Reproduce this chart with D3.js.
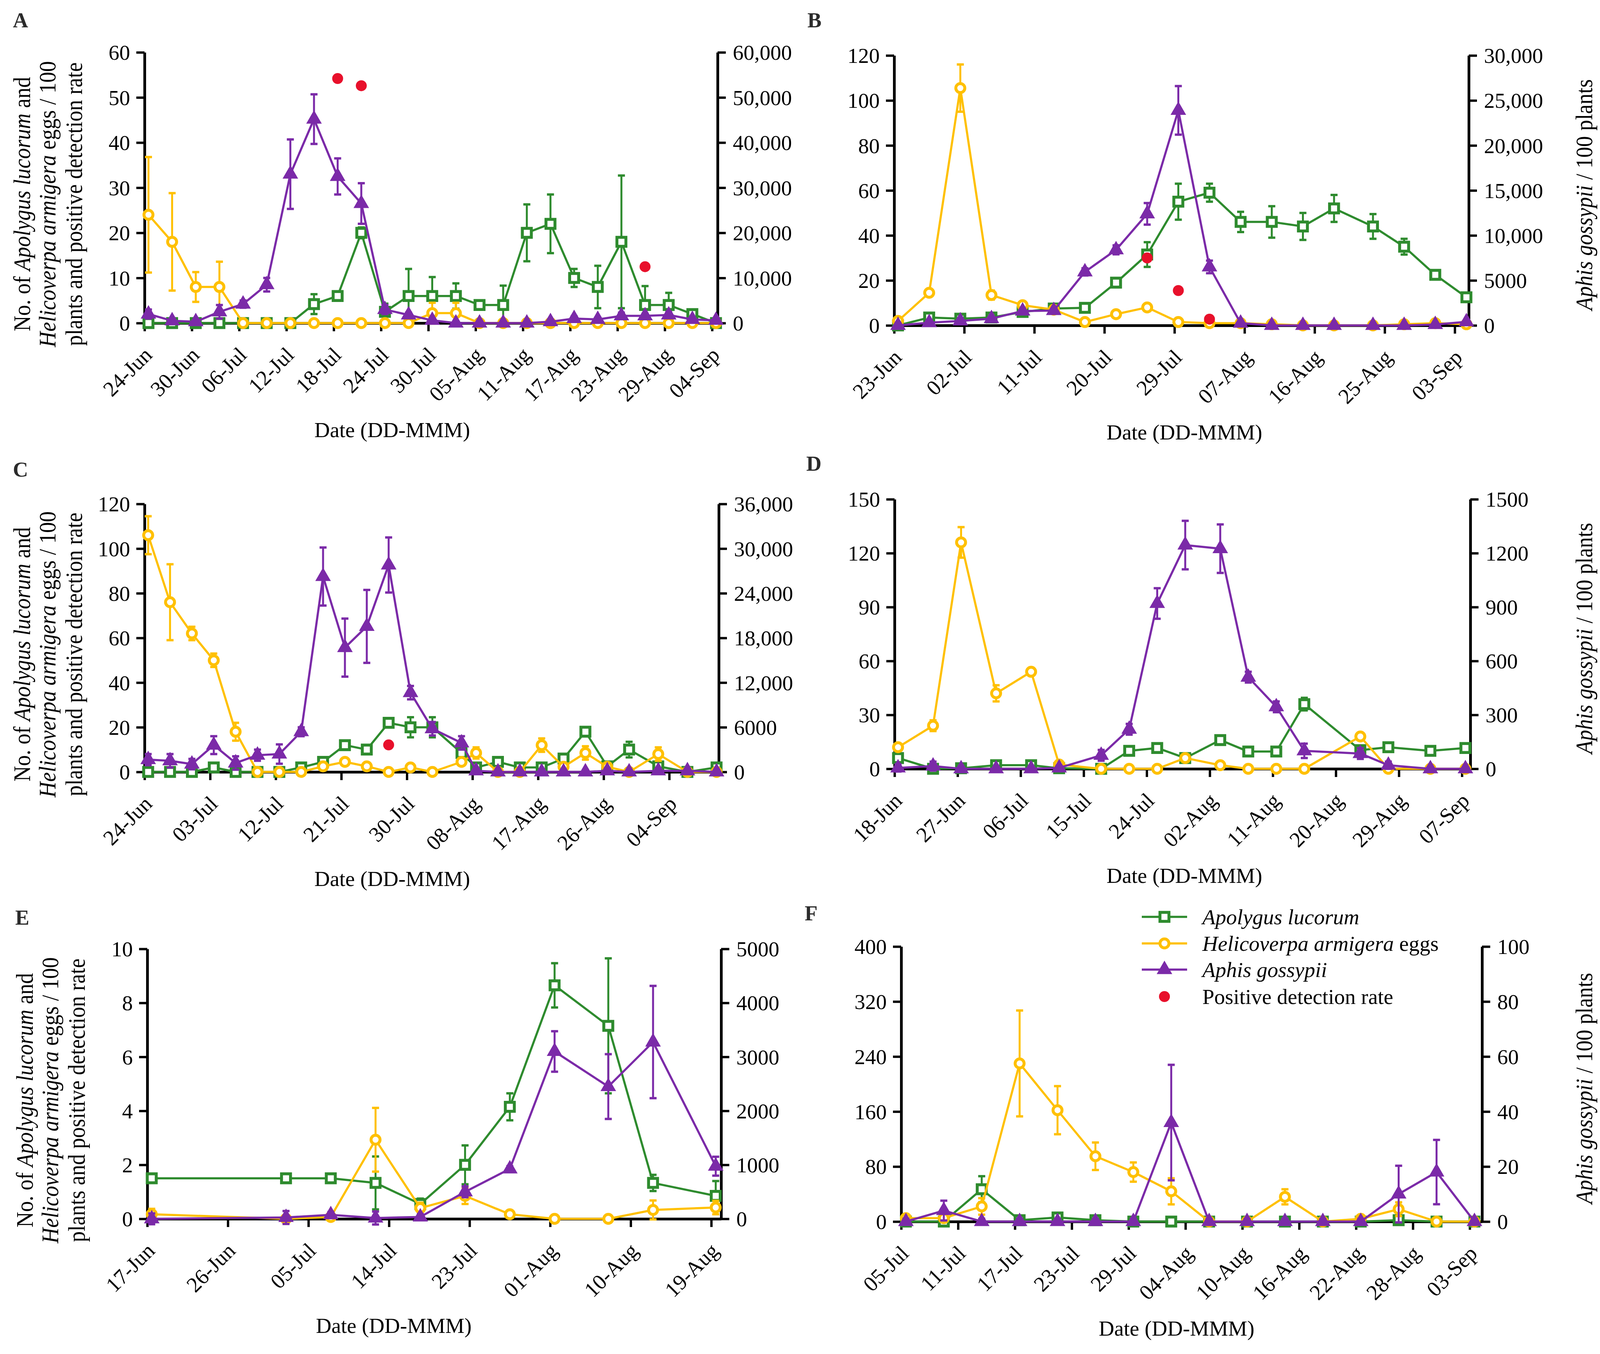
<!DOCTYPE html>
<html>
<head>
<meta charset="utf-8">
<script src="https://cdn.jsdelivr.net/npm/d3@7"></script>
<style>
  body { margin: 0; background: #fff; }
  svg, svg text { font-family: "Liberation Serif", "DejaVu Serif", serif; }
</style>
</head>
<body>
<svg id="chart" width="4120" height="3466"></svg>
<script>
// ---------- data ----------
// sampling dates per panel
const datesA = ["24-Jun","27-Jun","30-Jun","03-Jul","06-Jul","09-Jul","12-Jul","15-Jul","18-Jul","21-Jul","24-Jul","27-Jul","30-Jul","02-Aug","05-Aug","08-Aug","11-Aug","14-Aug","17-Aug","20-Aug","23-Aug","26-Aug","29-Aug","01-Sep","04-Sep"];
const datesB = ["23-Jun","27-Jun","01-Jul","05-Jul","09-Jul","13-Jul","17-Jul","21-Jul","25-Jul","29-Jul","02-Aug","06-Aug","10-Aug","14-Aug","18-Aug","23-Aug","27-Aug","31-Aug","04-Sep"];
const datesC = ["24-Jun","27-Jun","30-Jun","03-Jul","06-Jul","09-Jul","12-Jul","15-Jul","18-Jul","21-Jul","24-Jul","27-Jul","30-Jul","02-Aug","06-Aug","08-Aug","11-Aug","14-Aug","17-Aug","20-Aug","23-Aug","26-Aug","29-Aug","02-Sep","06-Sep","10-Sep"];
const datesD = ["18-Jun","23-Jun","27-Jun","02-Jul","07-Jul","11-Jul","17-Jul","21-Jul","25-Jul","29-Jul","03-Aug","07-Aug","11-Aug","15-Aug","23-Aug","27-Aug","02-Sep","07-Sep"];
const datesE = ["17-Jun","02-Jul","07-Jul","12-Jul","17-Jul","22-Jul","27-Jul","01-Aug","07-Aug","12-Aug","19-Aug"];
const datesF = ["05-Jul","09-Jul","13-Jul","17-Jul","21-Jul","25-Jul","29-Jul","02-Aug","06-Aug","10-Aug","14-Aug","18-Aug","22-Aug","26-Aug","30-Aug","03-Sep"];

// x tick labels
const ticksA = ["24-Jun","30-Jun","06-Jul","12-Jul","18-Jul","24-Jul","30-Jul","05-Aug","11-Aug","17-Aug","23-Aug","29-Aug","04-Sep"];
const ticksB = ["23-Jun","02-Jul","11-Jul","20-Jul","29-Jul","07-Aug","16-Aug","25-Aug","03-Sep"];
const ticksC = ["24-Jun","03-Jul","12-Jul","21-Jul","30-Jul","08-Aug","17-Aug","26-Aug","04-Sep"];
const ticksD = ["18-Jun","27-Jun","06-Jul","15-Jul","24-Jul","02-Aug","11-Aug","20-Aug","29-Aug","07-Sep"];
const ticksE = ["17-Jun","26-Jun","05-Jul","14-Jul","23-Jul","01-Aug","10-Aug","19-Aug"];
const ticksF = ["05-Jul","11-Jul","17-Jul","23-Jul","29-Jul","04-Aug","10-Aug","16-Aug","22-Aug","28-Aug","03-Sep"];

// Apolygus lucorum (left axis): mean and error
const lucorumA    = [0,0,0,0,0,0,0,4.2,6,20,2.5,6,6,6,4,4,20,22,10,8,18,4,4,2,0];
const lucorumErrA = [0,0,0,0,0,0,0,2.2,0.6,1.2,1.8,6,4.2,2.8,0.6,4.3,6.3,6.5,2,4.7,14.7,4.2,2.7,0.5,0];
const lucorumB    = [0,3.5,3,3.5,6,7.5,7.8,19,31.5,55,59,46,46,44,52,44,35,22.5,12.5];
const lucorumErrB = [0.5,1,0.8,0.8,1,1,0.8,2,5.5,8,4,4.5,7,6,6,5.5,3.5,1.5,1.5];
const lucorumC    = [0,0,0,2,0,0,0,2,4.5,12,10,22,20,20,8.5,2,4.5,2,2,6,18,2.5,10,2.5,0,2];
const lucorumErrC = [0.5,0.5,0.5,1,0.5,0.5,0.5,1,1,1.5,1.5,2,4.5,4.5,3,1,1,1,1,2,2,1,3.5,1,0.5,1];
const lucorumD    = [6,0,0.3,2,2,0.3,0,10,11.6,6,16,9.6,9.6,36,10.4,12,10,11.6];
const lucorumErrD = [1,0.5,0.5,0.5,0.5,0.5,0.5,1.5,1.5,1,2,1,1,3.5,1,1,1,1];
const lucorumE    = [1.5,1.5,1.5,1.33,0.55,2.0,4.15,8.65,7.15,1.33,0.85];
const lucorumErrE = [0.12,0.12,0.12,0.98,0.2,0.72,0.5,0.82,2.5,0.3,0.55];
const lucorumF    = [0,0,47,2,6,2,0,0,0,0,0,0,0,2,0,0];
const lucorumErrF = [2,2,19,2,3,2,0,0,0,0,0,0,0,2,0,0];

// Helicoverpa armigera eggs (left axis)
const armigeraA    = [24,18,8,8,0,0,0,0,0,0,0,0,2.2,2.2,0,0,0,0,0,0,0,0,0,0,0];
const armigeraErrA = [12.8,10.8,3.3,5.6,0,0,0,0,0,0,0,0,2.3,2.3,0,0,0,0,0,0,0,0,0,0,0];
const armigeraB    = [2,14.5,105.5,13.5,9,7,1.5,5,8,1.5,1,1,0.5,0,0,0,0.5,1,0.5];
const armigeraErrB = [1.5,1.5,10.5,2,1,1,0.5,1,1,0.5,0.3,0.3,0.3,0,0,0,0.3,0.5,0.3];
const armigeraC    = [106,76,62,50,18,0,0,0,2.5,4.5,2.5,0,2,0,4.5,8.5,0,0,12,2.3,8.5,2.3,0,8,0,0];
const armigeraErrC = [8.5,17,3,3,4,0,0,0,1,1.5,1,0,1,0,1,2.5,0,0,3,1,3,1,0,3,0,0];
const armigeraD    = [12,24,126,42,54,2.4,0,0,0,6,2,0,0,0,18,0,0,0];
const armigeraErrD = [2,3,8.5,4.5,2,0.5,0,0,0,1,0.5,0,0,0,2,0,0,0];
const armigeraE    = [0.17,0,0.07,2.93,0.4,0.85,0.17,0,0,0.33,0.42];
const armigeraErrE = [0.2,0.05,0.05,1.18,0.2,0.3,0.1,0.03,0.03,0.35,0.25];
const armigeraF    = [5,5,22,230,162,95,72,44,0,0,36,0,4,18,0,0];
const armigeraErrF = [3,5,12,77,35,20,14,19,0,2,11,2,4,10,2,2];

// Aphis gossypii (right axis)
const gossypiiA    = [2000,500,300,2500,4200,8500,33000,45200,32500,26500,3000,1800,600,0,0,0,0,300,1000,800,1600,1600,1800,800,600];
const gossypiiErrA = [1000,400,300,1500,800,1500,7700,5500,4000,4500,1000,500,300,0,0,0,0,200,500,400,700,500,600,300,300];
const gossypiiB    = [0,300,500,750,1600,1650,5950,8400,12400,23900,6500,250,0,0,0,0,0,100,400];
const gossypiiErrB = [100,100,100,150,200,200,400,500,1200,2700,700,100,0,0,0,0,0,50,100];
const gossypiiC    = [1650,1500,1050,3600,1200,2250,2400,5400,26250,16700,19550,27800,10650,5800,3900,150,0,0,0,0,0,150,0,150,150,0];
const gossypiiErrC = [750,900,700,1200,900,750,1300,600,3900,3900,4900,3700,900,900,900,250,250,250,250,250,250,250,250,250,250,250];
const gossypiiD    = [5,15,0,0,0,5,75,220,920,1245,1225,510,345,100,85,20,0,0];
const gossypiiErrD = [20,25,0,0,0,10,30,30,85,135,135,30,30,40,30,20,0,0];
const gossypiiE    = [0,25,75,15,35,500,925,3100,2450,3275,975];
const gossypiiErrE = [100,120,50,120,50,100,50,375,600,1040,175];
const gossypiiF    = [0,4,0,0,0,0,0,36,0,0,0,0,0,10,18,0];
const gossypiiErrF = [1,3.6,1,1,1,1,1,21,1,1,1,1,1,10.3,11.7,1];

// positive detection rate (left axis)
const rateDatesA = ["18-Jul","21-Jul","26-Aug"];
const rateA      = [54.2,52.6,12.5];
const rateDatesB = ["25-Jul","29-Jul","02-Aug"];
const rateB      = [30,15.5,2.8];
const rateDatesC = ["27-Jul"];
const rateC      = [12.1];

// ---------- styling ----------
const colors = { lucorum: "#2E8B2E", armigera: "#FFC000", gossypii: "#7B2AA8", rate: "#E8102B" };
const fontSize = 55;
const serif = "Liberation Serif, DejaVu Serif, serif";

const panels = [
  { id: "A", letter: [33, 70], left: 370, right: 1837, top: 134, bottom: 827, start: "24-Jun", days: 72.7,
    yMax: 60, yStep: 10, y2Max: 60000, y2Step: 10000, ticks: ticksA, dates: datesA,
    lucorum: [lucorumA, lucorumErrA], armigera: [armigeraA, armigeraErrA], gossypii: [gossypiiA, gossypiiErrA],
    rate: [rateDatesA, rateA], titleSide: "left", dateX: 1004 },
  { id: "B", letter: [2067, 70], left: 2289, right: 3760, top: 142, bottom: 833, start: "23-Jun", days: 73.8,
    yMax: 120, yStep: 20, y2Max: 30000, y2Step: 5000, ticks: ticksB, dates: datesB,
    lucorum: [lucorumB, lucorumErrB], armigera: [armigeraB, armigeraErrB], gossypii: [gossypiiB, gossypiiErrB],
    rate: [rateDatesB, rateB], titleSide: "right", dateX: 3032 },
  { id: "C", letter: [33, 1220], left: 370, right: 1840, top: 1290, bottom: 1976, start: "24-Jun", days: 78.8,
    yMax: 120, yStep: 20, y2Max: 36000, y2Step: 6000, ticks: ticksC, dates: datesC,
    lucorum: [lucorumC, lucorumErrC], armigera: [armigeraC, armigeraErrC], gossypii: [gossypiiC, gossypiiErrC],
    rate: [rateDatesC, rateC], titleSide: "left", dateX: 1004 },
  { id: "D", letter: [2064, 1205], left: 2290, right: 3764, top: 1278, bottom: 1968, start: "18-Jun", days: 82.2,
    yMax: 150, yStep: 30, y2Max: 1500, y2Step: 300, ticks: ticksD, dates: datesD,
    lucorum: [lucorumD, lucorumErrD], armigera: [armigeraD, armigeraErrD], gossypii: [gossypiiD, gossypiiErrD],
    rate: null, titleSide: "right", dateX: 3032 },
  { id: "E", letter: [39, 2367], left: 377, right: 1846, top: 2429, bottom: 3120, start: "17-Jun", days: 64.1,
    yMax: 10, yStep: 2, y2Max: 5000, y2Step: 1000, ticks: ticksE, dates: datesE,
    lucorum: [lucorumE, lucorumErrE], armigera: [armigeraE, armigeraErrE], gossypii: [gossypiiE, gossypiiErrE],
    rate: null, titleSide: "left", dateX: 1008 },
  { id: "F", letter: [2060, 2356], left: 2307, right: 3794, top: 2423, bottom: 3127, start: "05-Jul", days: 61.3,
    yMax: 400, yStep: 80, y2Max: 100, y2Step: 20, ticks: ticksF, dates: datesF,
    lucorum: [lucorumF, lucorumErrF], armigera: [armigeraF, armigeraErrF], gossypii: [gossypiiF, gossypiiErrF],
    rate: null, titleSide: "right", dateX: 3012 }
];

const parse = d3.timeParse("%d-%b");
const fmtDate = d3.timeFormat("%d-%b");
const fmtRight = v => v >= 10000 ? d3.format(",")(v) : String(v);
// points sit half a day after the midnight tick
const noon = s => d3.timeHour.offset(parse(s), 12);

const svg = d3.select("#chart");

const symbols = {
  lucorum:  { type: d3.symbolSquare,   size: 23 * 23, fill: "#fff" },
  armigera: { type: d3.symbolCircle,   size: Math.PI * 11.5 * 11.5, fill: "#fff" },
  gossypii: { type: d3.symbolTriangle, size: 470, fill: colors.gossypii }
};

function drawSeries(g, x, y, dates, vals, errs, key) {
  const color = colors[key];
  const pts = dates.map((d, i) => ({ t: noon(d), v: vals[i], e: errs[i] }));

  // error bars
  const eb = g.append("g").attr("stroke", color).attr("stroke-width", 5);
  pts.filter(p => p.e > 0).forEach(p => {
    const cx = x(p.t), y1 = y(p.v + p.e), y2 = y(p.v - p.e);
    eb.append("line").attr("x1", cx).attr("x2", cx).attr("y1", y1).attr("y2", y2);
    eb.append("line").attr("x1", cx - 9).attr("x2", cx + 9).attr("y1", y1).attr("y2", y1).attr("stroke-width", 6);
    eb.append("line").attr("x1", cx - 9).attr("x2", cx + 9).attr("y1", y2).attr("y2", y2).attr("stroke-width", 6);
  });

  g.append("path")
    .datum(pts)
    .attr("fill", "none")
    .attr("stroke", color)
    .attr("stroke-width", 5.5)
    .attr("stroke-linejoin", "round")
    .attr("d", d3.line().x(p => x(p.t)).y(p => y(p.v)));

  const sym = symbols[key];
  g.append("g").selectAll("path")
    .data(pts)
    .join("path")
    .attr("transform", p => `translate(${x(p.t)},${y(p.v)})`)
    .attr("d", d3.symbol(sym.type, sym.size))
    .attr("fill", sym.fill)
    .attr("stroke", color)
    .attr("stroke-width", key === "gossypii" ? 4 : 7.5);
}

function styleAxis(g) {
  g.attr("font-family", serif).attr("font-size", fontSize);
  g.select(".domain").attr("stroke", "#000").attr("stroke-width", 7);
  g.selectAll(".tick line").attr("stroke", "#000").attr("stroke-width", 6);
  g.selectAll(".tick text").attr("fill", "#000");
}

panels.forEach(p => {
  const start = parse(p.start);
  const x = d3.scaleTime()
    .domain([start, new Date(+start + p.days * 864e5)])
    .range([p.left, p.right]);
  const y = d3.scaleLinear().domain([0, p.yMax]).range([p.bottom, p.top]);
  const y2 = d3.scaleLinear().domain([0, p.y2Max]).range([p.bottom, p.top]);

  const g = svg.append("g").attr("font-family", serif);

  // panel letter
  g.append("text")
    .attr("x", p.letter[0]).attr("y", p.letter[1])
    .attr("font-size", 54).attr("font-weight", "bold").attr("fill", "#2b2b2b")
    .text(p.id);

  // axes
  g.append("g")
    .attr("transform", `translate(${p.left},0)`)
    .call(d3.axisLeft(y).tickValues(d3.range(0, p.yMax + p.yStep / 2, p.yStep))
      .tickSize(21).tickPadding(16).tickSizeOuter(0))
    .call(styleAxis)
    .selectAll(".tick text").attr("dy", "0.34em");

  g.append("g")
    .attr("transform", `translate(${p.right},0)`)
    .call(d3.axisRight(y2).tickValues(d3.range(0, p.y2Max + p.y2Step / 2, p.y2Step))
      .tickFormat(fmtRight).tickSize(21).tickPadding(18).tickSizeOuter(0))
    .call(styleAxis)
    .selectAll(".tick text").attr("dy", "0.34em");

  const xa = g.append("g")
    .attr("transform", `translate(0,${p.bottom})`)
    .call(d3.axisBottom(x).tickValues(p.ticks.map(parse)).tickFormat(fmtDate)
      .tickSize(21).tickSizeOuter(0))
    .call(styleAxis);
  xa.selectAll(".tick text")
    .attr("x", 0).attr("y", 0).attr("dy", 0)
    .attr("text-anchor", "end")
    .attr("transform", "translate(22,85) rotate(-45)");

  // x title
  g.append("text")
    .attr("x", p.dateX).attr("y", p.bottom + 292)
    .attr("text-anchor", "middle").attr("font-size", fontSize)
    .text("Date (DD-MMM)");

  // y titles
  const midY = (p.top + p.bottom) / 2;
  if (p.titleSide === "left") {
    const lines = [
      [["No. of ", false], ["Apolygus lucorum", true], [" and", false]],
      [["Helicoverpa armigera", true], [" eggs / 100", false]],
      [["plants and positive detection rate", false]]
    ];
    const offs = [-293, -228, -160];
    lines.forEach((parts, i) => {
      const t = g.append("text")
        .attr("transform", `translate(${p.left + offs[i]},${midY + 42}) rotate(-90) scale(0.89,1)`)
        .attr("text-anchor", "middle").attr("font-size", 62);
      parts.forEach(([s, it]) => t.append("tspan").attr("font-style", it ? "italic" : null).text(s));
    });
  } else {
    const t = g.append("text")
      .attr("transform", `translate(4076,${midY + 11}) rotate(-90) scale(0.89,1)`)
      .attr("text-anchor", "middle").attr("font-size", 62);
    t.append("tspan").attr("font-style", "italic").text("Aphis gossypii");
    t.append("tspan").text(" / 100 plants");
  }

  // series
  drawSeries(g, x, y, p.dates, p.lucorum[0], p.lucorum[1], "lucorum");
  drawSeries(g, x, y, p.dates, p.armigera[0], p.armigera[1], "armigera");
  drawSeries(g, x, y2, p.dates, p.gossypii[0], p.gossypii[1], "gossypii");

  if (p.rate) {
    g.append("g").selectAll("circle")
      .data(p.rate[0].map((d, i) => ({ t: noon(d), v: p.rate[1][i] })))
      .join("circle")
      .attr("cx", d => x(d.t)).attr("cy", d => y(d.v))
      .attr("r", 14).attr("fill", colors.rate);
  }
});

// ---------- legend (in panel F) ----------
const legendItems = [
  { key: "lucorum",  parts: [["Apolygus lucorum", true]] },
  { key: "armigera", parts: [["Helicoverpa armigera", true], [" eggs", false]] },
  { key: "gossypii", parts: [["Aphis gossypii", true]] },
  { key: "rate",     parts: [["Positive detection rate", false]] }
];
const legendRows = [2347, 2415, 2482, 2551];
const lg = svg.append("g").attr("font-family", serif);
legendItems.forEach((it, i) => {
  const ry = legendRows[i];
  if (it.key === "rate") {
    lg.append("circle").attr("cx", 2981).attr("cy", ry).attr("r", 14).attr("fill", colors.rate);
  } else {
    const sym = symbols[it.key];
    lg.append("line").attr("x1", 2923).attr("x2", 3039).attr("y1", ry).attr("y2", ry)
      .attr("stroke", colors[it.key]).attr("stroke-width", 5.5);
    lg.append("path").attr("transform", `translate(2981,${ry})`)
      .attr("d", d3.symbol(sym.type, sym.size))
      .attr("fill", sym.fill).attr("stroke", colors[it.key])
      .attr("stroke-width", it.key === "gossypii" ? 4 : 7.5);
  }
  const t = lg.append("text").attr("x", 3078).attr("y", ry).attr("dy", "0.34em").attr("font-size", fontSize);
  it.parts.forEach(([s, itl]) => t.append("tspan").attr("font-style", itl ? "italic" : null).text(s));
});
</script>
</body>
</html>
